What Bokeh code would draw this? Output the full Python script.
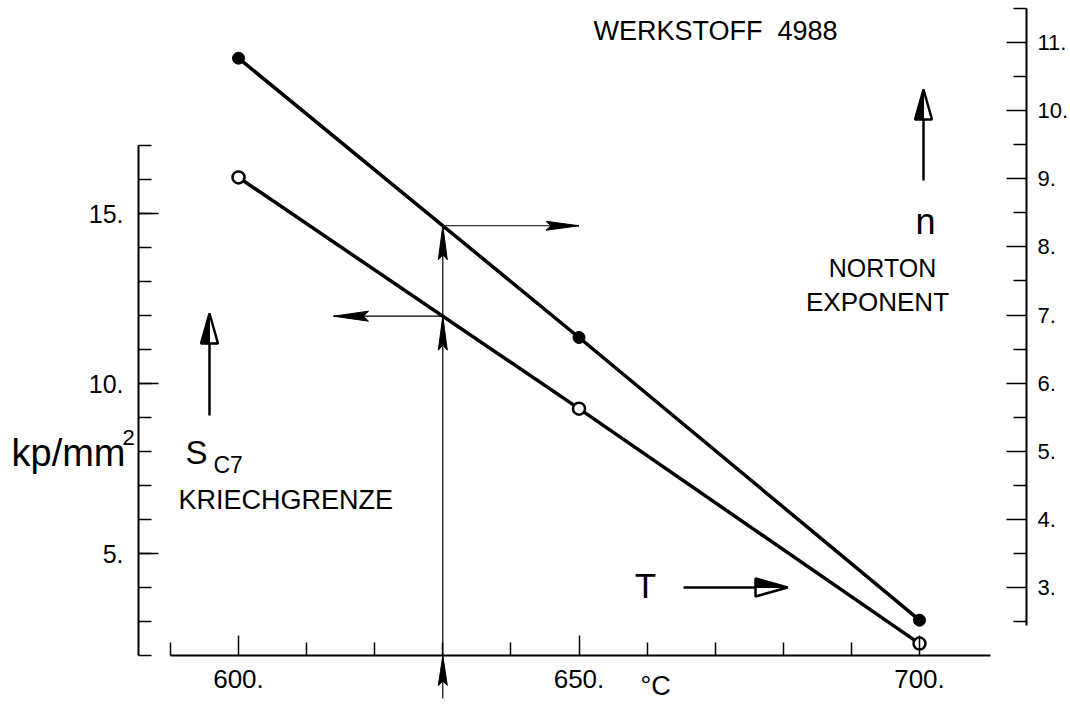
import numpy as np
from bokeh.plotting import figure
from bokeh.models import Range1d, LinearAxis, FixedTicker, Label, PrintfTickFormatter
from bokeh.embed import file_html
from bokeh.resources import INLINE

# ---------------- data ----------------
temps = [600, 650, 700]                 # °C
norton_n = [10.77, 6.67, 2.52]          # Norton exponent n (right axis)
kriechgrenze = [16.06, 9.26, 2.35]      # S_C7 in kp/mm^2 (left axis)

x_major = [600, 650, 700]
x_minor = [590, 610, 620, 630, 640, 660, 670, 680, 690]
s_major = [5, 10, 15]
s_minor = list(range(2, 18))
n_major = [3, 4, 5, 6, 7, 8, 9, 10, 11]
n_minor = [2.5, 3.5, 4.5, 5.5, 6.5, 7.5, 8.5, 9.5, 10.5, 11.5]
T_mark = 630

# ---------------- geometry ----------------
W, H = 1070, 704
PX_X = 6.81
X0 = 600 - 238 / PX_X
X1 = X0 + W / PX_X
PX_S = 34.0
S0 = 2 - (H - 655) / PX_S
S1 = S0 + H / PX_S
PX_N = 68.125
N0 = 3 - (H - 587) / PX_N
N1 = N0 + H / PX_N


def xp(px):
    return X0 + px / PX_X


def sp(py):
    return S0 + (H - py) / PX_S


def x2px(x):
    return (x - X0) * PX_X


def s2py(s):
    return H - (s - S0) * PX_S


def n2py(n):
    return H - (n - N0) * PX_N


FONT = "Liberation Sans"

p = figure(width=W, height=H, x_range=Range1d(X0, X1), y_range=Range1d(S0, S1),
           x_axis_type=None, y_axis_type=None, toolbar_location=None,
           output_backend="svg", min_border=0, outline_line_color=None)
p.extra_y_ranges = {"n": Range1d(N0, N1)}
p.background_fill_color = "white"
p.border_fill_color = "white"

common = dict(major_tick_out=0, minor_tick_out=0, major_tick_in=20, minor_tick_in=13,
              axis_line_width=2, axis_line_color="black",
              major_tick_line_width=1.5, minor_tick_line_width=1.5,
              major_tick_line_color="black", minor_tick_line_color="black",
              major_label_text_font=FONT, major_label_text_color="black",
              formatter=PrintfTickFormatter(format="%d."))

left = LinearAxis(ticker=FixedTicker(ticks=s_major, minor_ticks=s_minor),
                  fixed_location=xp(138), bounds=(2, 17), major_label_standoff=15,
                  major_label_text_font_size="25px", **common)
p.add_layout(left, "left")

right = LinearAxis(y_range_name="n", ticker=FixedTicker(ticks=n_major, minor_ticks=n_minor),
                   fixed_location=xp(1026), bounds=(2.44, 11.5), major_label_standoff=11,
                   major_label_text_font_size="22px", **common)
p.add_layout(right, "right")

bottom = LinearAxis(ticker=FixedTicker(ticks=x_major, minor_ticks=x_minor),
                    fixed_location=2.0, bounds=(590, 710.4), major_label_standoff=14,
                    major_label_text_font_size="26px", **common)
p.add_layout(bottom, "below")

# ---------------- construction lines ----------------
n_at = float(np.interp(T_mark, temps, norton_n))
s_at = float(np.interp(T_mark, temps, kriechgrenze))
n_at_s = sp(n2py(n_at))

p.segment(x0=[T_mark], y0=[sp(698)], x1=[T_mark], y1=[n_at_s], line_width=1.2, line_color="black")
p.segment(x0=[T_mark], y0=[n_at_s], x1=[650], y1=[n_at_s], line_width=1.2, line_color="black")
p.segment(x0=[T_mark], y0=[s_at], x1=[xp(333)], y1=[s_at], line_width=1.2, line_color="black")


def head_pts(tx, ty, direction, length, width):
    if direction == "up":
        pts = [(tx, ty), (tx - width / 2, ty + length), (tx, ty + length * 0.85), (tx + width / 2, ty + length)]
    elif direction == "right":
        pts = [(tx, ty), (tx - length, ty - width / 2), (tx - length * 0.85, ty), (tx - length, ty + width / 2)]
    else:  # left
        pts = [(tx, ty), (tx + length, ty - width / 2), (tx + length * 0.85, ty), (tx + length, ty + width / 2)]
    return [xp(a) for a, _ in pts], [sp(b) for _, b in pts]


def dart(tx, ty, direction, length=34, width=9):
    xs, ys = head_pts(tx, ty, direction, length, width)
    p.patch(xs, ys, fill_color="black", line_color="black", line_width=1)


tx = x2px(T_mark)
dart(tx, n2py(n_at), "up")
dart(tx, s2py(s_at), "up")
dart(tx, s2py(2.0), "up", length=30)
dart(x2px(650), n2py(n_at), "right", length=33)
dart(333, s2py(s_at), "left", length=35, width=10)


def hollow_arrow(x_from, y_from, x_to, y_to, direction, length=30, width=17):
    p.segment(x0=[xp(x_from)], y0=[sp(y_from)], x1=[xp(x_to)], y1=[sp(y_to)],
              line_width=2.5, line_color="black")
    if direction == "up":
        tri = [(x_to, y_to), (x_to - width / 2, y_to + length), (x_to + width / 2, y_to + length)]
        half = [(x_to, y_to), (x_to - width / 2, y_to + length), (x_to, y_to + length)]
    else:  # right
        tri = [(x_to, y_to), (x_to - length, y_to - width / 2), (x_to - length, y_to + width / 2)]
        half = [(x_to, y_to), (x_to - length, y_to - width / 2), (x_to - length, y_to)]
    p.patch([xp(a) for a, _ in tri], [sp(b) for _, b in tri], fill_color="white",
            line_color="black", line_width=2.5)
    p.patch([xp(a) for a, _ in half], [sp(b) for _, b in half], fill_color="black",
            line_color="black", line_width=1)


hollow_arrow(209, 415, 209, 313, "up")
hollow_arrow(923, 180, 923, 89, "up")
hollow_arrow(683, 587, 787, 587, "right", length=32, width=18)

# ---------------- series ----------------
p.line(temps, kriechgrenze, line_width=3.5, line_color="black")
p.line(temps, norton_n, y_range_name="n", line_width=3.5, line_color="black")
p.scatter(temps, kriechgrenze, size=12, fill_color="white", line_color="black", line_width=2.5)
p.scatter(temps, norton_n, y_range_name="n", size=12, fill_color="black", line_color="black")


# ---------------- texts ----------------
def label(px, py, text, size, align="left"):
    p.add_layout(Label(x=xp(px), y=sp(py), text=text, text_font=FONT,
                       text_font_size=f"{size}px", text_color="black",
                       text_align=align, text_baseline="middle"))


label(593, 30, "WERKSTOFF\u00a0\u00a04988", 27)
label(925, 221, "n", 36, align="center")
label(882, 267, "NORTON", 25, align="center")
label(877, 301, "EXPONENT", 26, align="center")
label(645, 585, "T", 35, align="center")
label(185, 452, "S", 33)
label(213, 464, "C7", 23)
label(178, 499, "KRIECHGRENZE", 27)
label(11, 452, "kp/mm", 38)
label(122, 437, "2", 22)
label(640, 685, "°C", 27)

open("out.html", "w").write(file_html(p, INLINE))
